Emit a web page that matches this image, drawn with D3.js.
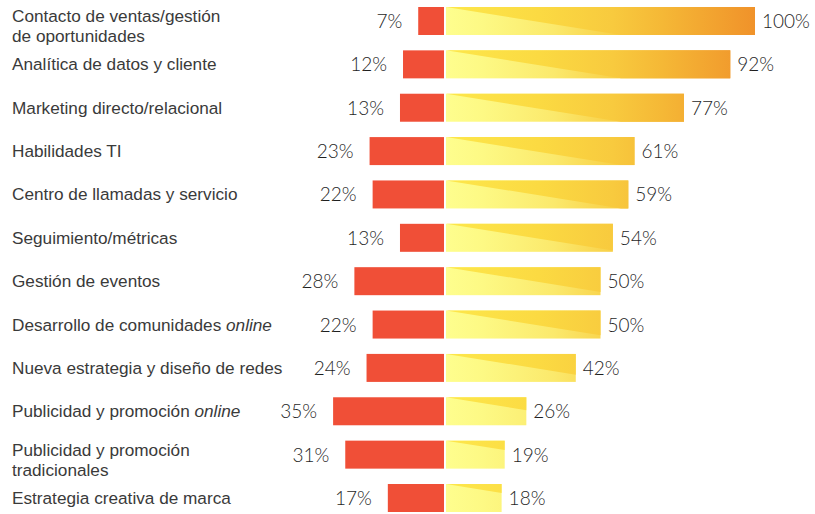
<!DOCTYPE html>
<html>
<head>
<meta charset="utf-8">
<script src="https://cdn.jsdelivr.net/npm/d3@7"></script>
<style>
  html, body { margin: 0; padding: 0; background: #ffffff; }
  svg { display: block; }
</style>
</head>
<body>
<svg id="chart" width="815" height="514"></svg>
<script>
// ---- Data ----
const categories = [
  "Contacto de ventas/gestión\nde oportunidades",
  "Analítica de datos y cliente",
  "Marketing directo/relacional",
  "Habilidades TI",
  "Centro de llamadas y servicio",
  "Seguimiento/métricas",
  "Gestión de eventos",
  "Desarrollo de comunidades online",
  "Nueva estrategia y diseño de redes",
  "Publicidad y promoción online",
  "Publicidad y promoción\ntradicionales",
  "Estrategia creativa de marca"
];
const italicWords = ["online"];
const leftValues  = [7, 12, 13, 23, 22, 13, 28, 22, 24, 35, 31, 17];
const rightValues = [100, 92, 77, 61, 59, 54, 50, 50, 42, 26, 19, 18];

// ---- Layout ----
const svg = d3.select("#chart");
const barH = 28;
const y = d3.scalePoint().domain(categories).range([21, 498]);
const xR = d3.scaleLinear().domain([0, 100]).range([446, 755]);
const xL = d3.scaleLinear().domain([0, 100]).range([439.5, 135.5]);
const leftBase = 444;
const slope = 0.16;

const defs = svg.append("defs");
function grad(id, stops) {
  const g = defs.append("linearGradient").attr("id", id)
    .attr("gradientUnits", "userSpaceOnUse")
    .attr("x1", xR(0)).attr("x2", xR(100)).attr("y1", 0).attr("y2", 0);
  stops.forEach(([o, c]) => g.append("stop").attr("offset", o).attr("stop-color", c));
}
grad("gLow", [[0, "#fefe8e"], [0.12, "#fdf984"], [0.35, "#fbe96c"], [0.54, "#f8d048"], [0.7, "#f5b836"], [1, "#f0922a"]]);
grad("gUp",  [[0, "#fde74b"], [0.3, "#fbda42"], [0.54, "#f8ca3e"], [0.7, "#f5b836"], [1, "#f0922a"]]);

const rows = categories.map((c, i) => ({ cat: c, l: leftValues[i], r: rightValues[i] }));
const g = svg.append("g");

// Left (red) bars
g.selectAll("rect.left").data(rows).join("rect")
  .attr("class", "left")
  .attr("x", d => xL(d.l))
  .attr("y", d => y(d.cat) - barH / 2)
  .attr("width", d => leftBase - xL(d.l))
  .attr("height", barH)
  .attr("fill", "#f04f37");

// Right (gradient) bars
g.selectAll("rect.right").data(rows).join("rect")
  .attr("class", "right")
  .attr("x", xR(0))
  .attr("y", d => y(d.cat) - barH / 2)
  .attr("width", d => xR(d.r) - xR(0))
  .attr("height", barH)
  .attr("fill", "url(#gLow)");

g.selectAll("polygon.up").data(rows).join("polygon")
  .attr("class", "up")
  .attr("fill", "url(#gUp)")
  .attr("points", d => {
    const x0 = xR(0), xe = xR(d.r), top = y(d.cat) - barH / 2, bot = top + barH;
    const pts = [[x0, top], [xe, top]];
    const ye = top + slope * (xe - x0);
    if (ye <= bot) pts.push([xe, ye]);
    else { pts.push([xe, bot]); pts.push([x0 + barH / slope, bot]); }
    return pts.map(p => p.join(",")).join(" ");
  });

// Value labels
const valFont = "Lato, 'Open Sans', sans-serif";
g.selectAll("text.lv").data(rows).join("text")
  .attr("class", "lv")
  .attr("x", d => xL(d.l) - 16)
  .attr("y", d => y(d.cat) + 7)
  .attr("text-anchor", "end")
  .attr("font-family", valFont)
  .attr("font-weight", 300)
  .attr("font-size", 19)
  .attr("fill", "#1f1f1f")
  .text(d => d.l + "%");

g.selectAll("text.rv").data(rows).join("text")
  .attr("class", "rv")
  .attr("x", d => xR(d.r) + 7)
  .attr("y", d => y(d.cat) + 7)
  .attr("text-anchor", "start")
  .attr("font-family", valFont)
  .attr("font-weight", 300)
  .attr("font-size", 19)
  .attr("fill", "#1f1f1f")
  .text(d => d.r + "%");

// Category labels
const catText = g.selectAll("text.cat").data(rows).join("text")
  .attr("class", "cat")
  .attr("x", 12)
  .attr("font-family", "'Liberation Sans', Arial, sans-serif")
  .attr("font-size", 17.2)
  .attr("fill", "#3a3a3a");

catText.each(function(d) {
  const lines = d.cat.split("\n");
  const cy = y(d.cat);
  const t = d3.select(this);
  const base = lines.length > 1 ? cy + 1 : cy + 6;
  lines.forEach((line, li) => {
    const words = line.split(" ");
    words.forEach((w, wi) => {
      const ts = t.append("tspan").text((wi > 0 ? " " : "") + w);
      if (wi === 0) ts.attr("x", 12).attr("y", base + li * 20);
      if (italicWords.includes(w)) ts.attr("font-style", "italic");
    });
  });
});
</script>
</body>
</html>
